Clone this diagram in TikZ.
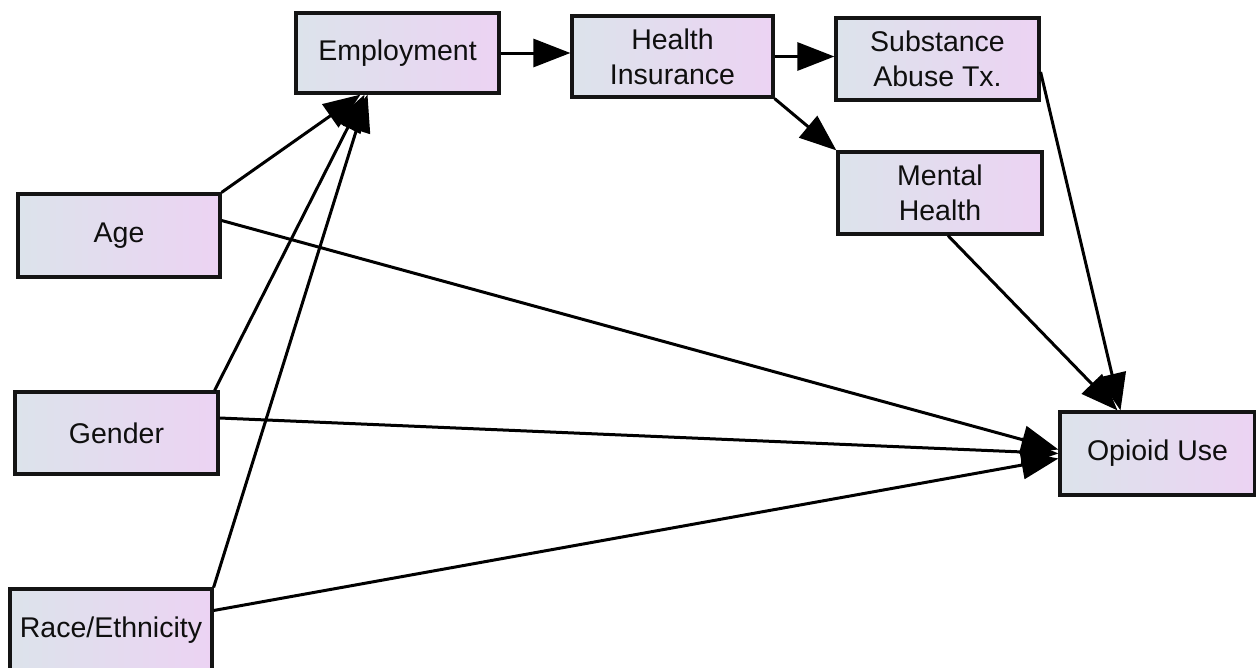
\documentclass[tikz,border=0pt]{standalone}
\usepackage{fontspec}
\setmainfont{Liberation Sans}
\usetikzlibrary{arrows.meta}
\definecolor{boxleft}{RGB}{220,227,235}
\definecolor{boxright}{RGB}{236,211,243}
\definecolor{boxline}{RGB}{20,20,20}
\definecolor{txt}{RGB}{15,15,15}
\begin{document}
\begin{tikzpicture}[x=1pt,y=-1pt,
  box/.style={draw=boxline, line width=3.2pt, left color=boxleft, right color=boxright,
    minimum width=203pt, minimum height=82pt, inner sep=0pt, align=center,
    text=txt, font=\fontsize{28.5}{35}\selectfont},
  conn/.style={line width=3pt, draw=black, -{Triangle[length=37pt,width=28pt]}}]
\useasboundingbox (0,0) rectangle (1256,667);
\clip (0,0) rectangle (1256,667);
\fill[white] (0,0) rectangle (1256,667);
\node[box, minimum width=202pt, minimum height=83pt] (age) at (119,235.5) {Age};
\node[box, minimum height=80pt] (emp) at (397.5,53) {Employment};
\node[box, minimum width=201pt, minimum height=81pt] (hi) at (672.5,56.5) {Health\\Insurance};
\node[box] (sub) at (937.5,59) {Substance\\Abuse Tx.};
\node[box, minimum width=204pt] (mh) at (940,193) {Mental\\Health};
\node[box, minimum width=195pt, minimum height=83pt] (op) at (1157.5,453.5) {Opioid Use};
\node[box] (gen) at (116.5,433) {Gender};
\node[box, minimum width=202pt, minimum height=83pt] (race) at (111,630.5) {Race/Ethnicity};
% top chain
\draw[conn] (emp.east) -- (emp.east -| hi.west);
\draw[conn] (hi.east) -- (hi.east -| sub.west);
\draw[conn] (hi.south east) -- (mh.north west);
% to employment
\draw[conn] (age.north east) -- ([xshift=-37pt]emp.south);
\draw[conn] ([xshift=-5pt]gen.north east) -- ([xshift=-33pt]emp.south);
\draw[conn] (race.north east) -- ([xshift=-30pt]emp.south);
% to opioid use
\draw[conn] ([yshift=15pt]age.east) -- ([yshift=4pt]op.west);
\draw[conn] ([yshift=15pt]gen.east) -- (op.west);
\draw[conn] ([yshift=20pt]race.east) -- ([yshift=-5pt]op.west);
\draw[conn] ([yshift=-13pt]sub.east) -- ([xshift=-37pt]op.north);
\draw[conn] ([xshift=8pt]mh.south) -- ([xshift=-40pt]op.north);
\end{tikzpicture}
\end{document}
